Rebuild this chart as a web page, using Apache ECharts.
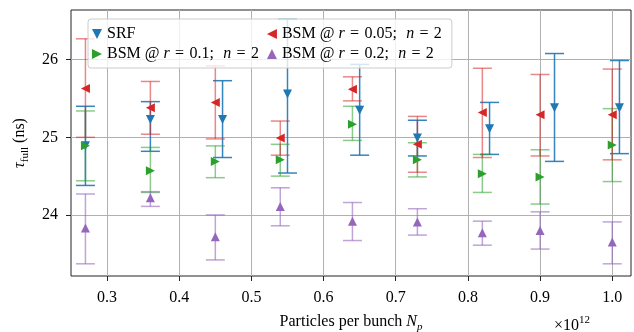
<!DOCTYPE html>
<html><head><meta charset="utf-8">
<script src="https://cdn.jsdelivr.net/npm/echarts@6/dist/echarts.min.js"></script>
<style>html,body{margin:0;padding:0;background:#fff}#c{width:634px;height:332px}</style>
</head><body><div id="c"></div>
<script>
// ---- data ----
const xBSM = [0.27, 0.36, 0.45, 0.54, 0.64, 0.73, 0.82, 0.90, 1.00];
const xSRF = [0.27, 0.36, 0.46, 0.55, 0.65, 0.73, 0.83, 0.92, 1.01];

const srfMean = [24.89, 25.23, 25.23, 25.56, 25.35, 24.99, 25.11, 25.38, 25.38];
const srfLow  = [24.38, 24.82, 24.74, 24.54, 24.77, 24.76, 24.78, 24.69, 24.79];
const srfHigh = [25.40, 25.46, 25.73, 26.52, 25.94, 25.22, 25.45, 26.08, 25.99];

const r01Mean = [24.89, 24.57, 24.69, 24.71, 25.17, 24.71, 24.53, 24.49, 24.90];
const r01Low  = [24.44, 24.29, 24.48, 24.50, 24.96, 24.49, 24.29, 24.14, 24.43];
const r01High = [25.34, 24.87, 24.89, 24.91, 25.40, 24.93, 24.78, 24.84, 25.37];

const r005Mean = [25.63, 25.38, 25.45, 24.99, 25.62, 24.91, 25.32, 25.29, 25.29];
const r005Low  = [25.00, 25.04, 24.98, 24.77, 25.47, 24.55, 24.74, 24.76, 24.71];
const r005High = [26.27, 25.72, 25.92, 25.21, 25.78, 25.27, 25.89, 25.81, 25.88];

const r02Mean = [23.83, 24.22, 23.72, 24.11, 23.92, 23.91, 23.77, 23.80, 23.65];
const r02Low  = [23.37, 24.11, 23.42, 23.86, 23.67, 23.74, 23.61, 23.56, 23.37];
const r02High = [24.27, 24.30, 24.00, 24.35, 24.16, 24.08, 23.92, 24.04, 23.91];

const xTicks = [0.3, 0.4, 0.5, 0.6, 0.7, 0.8, 0.9, 1.0];
const yTicks = [24, 25, 26];

const names = ['SRF', 'BSM @ r = 0.1; n = 2', 'BSM @ r = 0.05; n = 2', 'BSM @ r = 0.2; n = 2'];

// ---- styling ----
const FONT = '"Liberation Serif", "Times New Roman", Times, serif';
const DOWN = 'path://M0,0L10,0L5,10Z';
const UP = 'path://M5,0L10,10L0,10Z';
const LEFT = 'path://M10,0L10,10L0,5Z';
const RIGHT = 'path://M0,0L10,5L0,10Z';

function errSeries(name, xs, lo, hi, color, opacity) {
  return {
    type: 'custom', name: name + '_err', silent: true,
    data: xs.map((x, i) => [x, lo[i], hi[i]]),
    encode: { x: 0, y: [1, 2] },
    renderItem: (params, api) => {
      const x = api.value(0);
      const p1 = api.coord([x, api.value(1)]);
      const p2 = api.coord([x, api.value(2)]);
      const hw = 9.5;
      const style = { stroke: color, lineWidth: 1.5, opacity: opacity };
      return { type: 'group', children: [
        { type: 'line', shape: { x1: p1[0], y1: p1[1], x2: p2[0], y2: p2[1] }, style: style },
        { type: 'line', shape: { x1: p1[0] - hw, y1: p1[1], x2: p1[0] + hw, y2: p1[1] }, style: style },
        { type: 'line', shape: { x1: p2[0] - hw, y1: p2[1], x2: p2[0] + hw, y2: p2[1] }, style: style }
      ]};
    }
  };
}
function markSeries(name, xs, m, color, sym) {
  return {
    type: 'scatter', name: name, symbol: sym, symbolSize: 9,
    data: xs.map((x, i) => [x, m[i]]),
    itemStyle: { color: color, opacity: 1 },
    emphasis: { disabled: true }
  };
}

const cBlue = '#1f77b4', cGreen = '#2ca02c', cRed = '#d62728', cPurple = '#9467bd';

const legendRich = {
  i: { fontFamily: FONT, fontSize: 16, fontStyle: 'italic', color: '#000' },
  t: { fontFamily: FONT, fontSize: 16, color: '#000' }
};
const SP = '\u2004';
const TAIL = '\u2005';
function legendFmt(name) {
  if (name === 'SRF') return '{t|SRF}';
  const m = name.match(/r = ([\d.]+); n = (\d)/);
  return '{t|BSM @ }{i|r}{t|' + SP + '=' + SP + m[1] + ';' + SP + ' }{i|n}{t|' + SP + '=' + SP + m[2] + TAIL + '}';
}

const chart = echarts.init(document.getElementById('c'), null, { renderer: 'canvas' });
chart.setOption({
  animation: false,
  backgroundColor: '#fff',
  grid: { left: 71, right: 3, top: 10, bottom: 56, show: true, borderColor: '#222', borderWidth: 1, backgroundColor: 'transparent', outerBoundsMode: 'none', containLabel: false },
  xAxis: {
    type: 'value', min: 0.25, max: 1.026,
    axisLine: { show: false },
    axisTick: { show: true, customValues: xTicks, length: 5, lineStyle: { color: '#222', width: 1 } },
    axisLabel: { customValues: xTicks, formatter: v => v.toFixed(1), fontFamily: FONT, fontSize: 16, color: '#000', margin: 14 },
    splitLine: { show: true, lineStyle: { color: '#b0b0b0', width: 1 } },
    name: '{a|Particles per bunch }{i|N}{s|p}',
    nameLocation: 'middle', nameGap: 35,
    nameTextStyle: { rich: {
      a: { fontFamily: FONT, fontSize: 16, color: '#000', lineHeight: 22, verticalAlign: 'middle' },
      i: { fontFamily: FONT, fontSize: 16, fontStyle: 'italic', color: '#000', lineHeight: 22, verticalAlign: 'middle' },
      s: { fontFamily: FONT, fontSize: 11, fontStyle: 'italic', color: '#000', lineHeight: 11, verticalAlign: 'bottom' }
    } }
  },
  yAxis: {
    type: 'value', min: 23.213, max: 26.641,
    axisLine: { show: false },
    axisTick: { show: true, customValues: yTicks, length: 5, lineStyle: { color: '#222', width: 1 } },
    axisLabel: { customValues: yTicks, formatter: v => String(v), fontFamily: FONT, fontSize: 16, color: '#000', margin: 13 },
    splitLine: { show: true, lineStyle: { color: '#b0b0b0', width: 1 } },
    name: '{i|τ}{s|full}{a| (ns)}',
    nameLocation: 'middle', nameGap: 40,
    nameTextStyle: { rich: {
      a: { fontFamily: FONT, fontSize: 16, color: '#000', lineHeight: 22, verticalAlign: 'middle' },
      i: { fontFamily: FONT, fontSize: 16, fontStyle: 'italic', color: '#000', lineHeight: 22, verticalAlign: 'middle' },
      s: { fontFamily: FONT, fontSize: 11, color: '#000', lineHeight: 11, verticalAlign: 'bottom' }
    } }
  },
  legend: {
    orient: 'vertical', left: 88, top: 19, height: 40,
    itemGap: 4, itemWidth: 10, itemHeight: 10,
    padding: [7, 6, 6, 4],
    backgroundColor: 'rgba(255,255,255,0.8)', borderColor: '#cccccc', borderWidth: 1, borderRadius: 3,
    selectedMode: false,
    textStyle: { fontFamily: FONT, fontSize: 16, color: '#000', rich: legendRich },
    formatter: legendFmt,
    data: [
      { name: names[0], icon: DOWN },
      { name: names[1], icon: RIGHT },
      { name: names[2], icon: LEFT },
      { name: names[3], icon: UP }
    ]
  },
  graphic: [{
    type: 'text', left: 554, top: 315,
    style: {
      text: '{a|×10}{s|12}',
      rich: {
        a: { fontFamily: FONT, fontSize: 16, fill: '#000', lineHeight: 22, verticalAlign: 'middle' },
        s: { fontFamily: FONT, fontSize: 11, fill: '#000', lineHeight: 11, verticalAlign: 'top' }
      }
    }
  }],
  series: [
    errSeries(names[0], xSRF, srfLow, srfHigh, cBlue, 0.9),
    markSeries(names[0], xSRF, srfMean, cBlue, DOWN),
    errSeries(names[1], xBSM, r01Low, r01High, cGreen, 0.55),
    markSeries(names[1], xBSM, r01Mean, cGreen, RIGHT),
    errSeries(names[2], xBSM, r005Low, r005High, cRed, 0.55),
    markSeries(names[2], xBSM, r005Mean, cRed, LEFT),
    errSeries(names[3], xBSM, r02Low, r02High, cPurple, 0.6),
    markSeries(names[3], xBSM, r02Mean, cPurple, UP)
  ]
});
</script>
</body></html>
